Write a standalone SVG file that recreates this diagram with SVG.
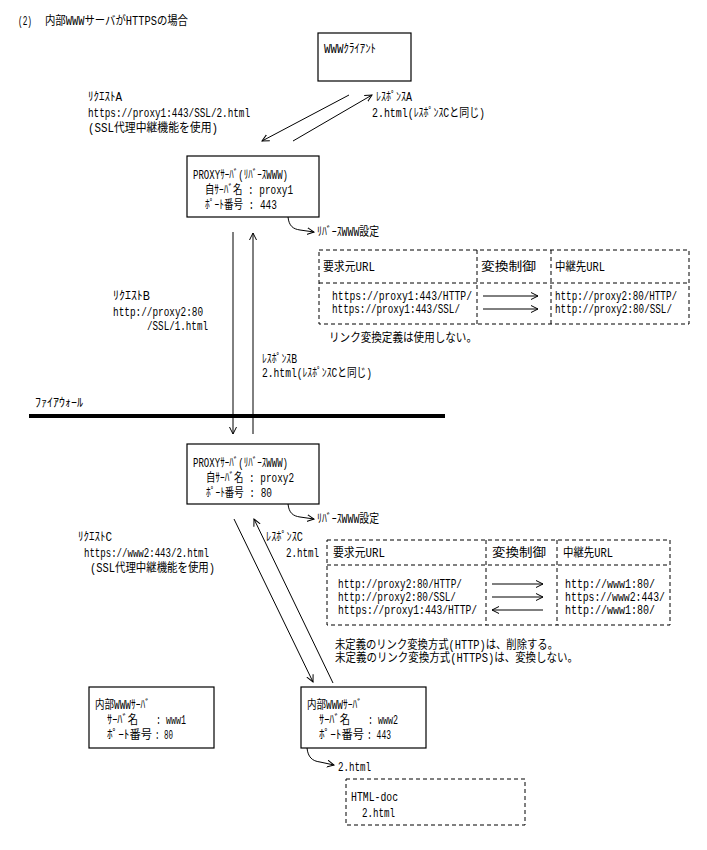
<svg xmlns="http://www.w3.org/2000/svg" width="707" height="850" viewBox="0 0 707 850">
<style>
text{font-family:"Liberation Mono","Noto Sans CJK JP",monospace;font-size:12px;fill:#000}
.box{fill:#fff;stroke:#000;stroke-width:1.2}
.dash{fill:none;stroke:#000;stroke-width:1;stroke-dasharray:4 3}
.ln{fill:none;stroke:#000;stroke-width:1}
</style>
<defs>
<marker id="ah" markerWidth="9" markerHeight="9" refX="7" refY="4" orient="auto" markerUnits="userSpaceOnUse"><path d="M0,0.5 L7,4 L0,7.5" fill="none" stroke="#000" stroke-width="1"/></marker>
</defs>
<rect width="707" height="850" fill="#fff"/>

<g id="title">
<text x="18" y="25" textLength="14" lengthAdjust="spacingAndGlyphs">(2)</text>
<text x="45" y="25" textLength="143" lengthAdjust="spacingAndGlyphs">内部WWWサーバがHTTPSの場合</text>
</g>

<g id="client">
<rect class="box" x="318" y="33" width="93" height="48"/>
<text x="324" y="53" textLength="52" lengthAdjust="spacingAndGlyphs">WWWｸﾗｲｱﾝﾄ</text>
</g>

<g id="labelA">
<text x="88" y="101" textLength="34" lengthAdjust="spacingAndGlyphs">ﾘｸｴｽﾄA</text>
<text x="88" y="117" textLength="162" lengthAdjust="spacingAndGlyphs">https://proxy1:443/SSL/2.html</text>
<text x="88" y="132" textLength="130" lengthAdjust="spacingAndGlyphs">(SSL代理中継機能を使用)</text>
<text x="376" y="101" textLength="36" lengthAdjust="spacingAndGlyphs">ﾚｽﾎﾟﾝｽA</text>
<text x="372" y="117" textLength="113" lengthAdjust="spacingAndGlyphs">2.html(ﾚｽﾎﾟﾝｽCと同じ)</text>
</g>

<g id="proxy1">
<rect class="box" x="187" y="156" width="132" height="61"/>
<text x="193" y="179" textLength="95" lengthAdjust="spacingAndGlyphs">PROXYｻｰﾊﾞ(ﾘﾊﾞｰｽWWW)</text>
<text x="205" y="194" textLength="88" lengthAdjust="spacingAndGlyphs">自ｻｰﾊﾞ名 : proxy1</text>
<text x="205" y="209" textLength="72" lengthAdjust="spacingAndGlyphs">ﾎﾟｰﾄ番号 : 443</text>
</g>

<g id="setting1">
<text x="317" y="236" textLength="62" lengthAdjust="spacingAndGlyphs">ﾘﾊﾞｰｽWWW設定</text>
<rect class="dash" x="319" y="250" width="370" height="74"/>
<line class="dash" x1="319" y1="283" x2="689" y2="283"/>
<line class="dash" x1="477" y1="250" x2="477" y2="324"/>
<line class="dash" x1="551" y1="250" x2="551" y2="324"/>
<text x="323" y="271" textLength="52" lengthAdjust="spacingAndGlyphs">要求元URL</text>
<text x="481" y="271" textLength="55" lengthAdjust="spacingAndGlyphs">変換制御</text>
<text x="555" y="271" textLength="50" lengthAdjust="spacingAndGlyphs">中継先URL</text>
<text x="332" y="300" textLength="140" lengthAdjust="spacingAndGlyphs">https://proxy1:443/HTTP/</text>
<text x="332" y="313" textLength="128" lengthAdjust="spacingAndGlyphs">https://proxy1:443/SSL/</text>
<text x="555" y="300" textLength="122" lengthAdjust="spacingAndGlyphs">http://proxy2:80/HTTP/</text>
<text x="555" y="313" textLength="117" lengthAdjust="spacingAndGlyphs">http://proxy2:80/SSL/</text>
<text x="329" y="342" textLength="148" lengthAdjust="spacingAndGlyphs">リンク変換定義は使用しない。</text>
</g>

<g id="labelB">
<text x="113" y="300" textLength="37" lengthAdjust="spacingAndGlyphs">ﾘｸｴｽﾄB</text>
<text x="113" y="316" textLength="90" lengthAdjust="spacingAndGlyphs">http://proxy2:80</text>
<text x="147" y="330" textLength="61" lengthAdjust="spacingAndGlyphs">/SSL/1.html</text>
<text x="262" y="363" textLength="35" lengthAdjust="spacingAndGlyphs">ﾚｽﾎﾟﾝｽB</text>
<text x="262" y="377" textLength="110" lengthAdjust="spacingAndGlyphs">2.html(ﾚｽﾎﾟﾝｽCと同じ)</text>
</g>

<g id="firewall">
<text x="35" y="407" textLength="48" lengthAdjust="spacingAndGlyphs">ﾌｧｲｱｳｫｰﾙ</text>
<line x1="29" y1="416" x2="445" y2="416" stroke="#000" stroke-width="4"/>
</g>

<g id="proxy2">
<rect class="box" x="187" y="444" width="132" height="60"/>
<text x="193" y="467" textLength="95" lengthAdjust="spacingAndGlyphs">PROXYｻｰﾊﾞ(ﾘﾊﾞｰｽWWW)</text>
<text x="206" y="482" textLength="88" lengthAdjust="spacingAndGlyphs">自ｻｰﾊﾞ名 : proxy2</text>
<text x="206" y="497" textLength="66" lengthAdjust="spacingAndGlyphs">ﾎﾟｰﾄ番号 : 80</text>
</g>

<g id="labelC">
<text x="78" y="541" textLength="34" lengthAdjust="spacingAndGlyphs">ﾘｸｴｽﾄC</text>
<text x="84" y="557" textLength="125" lengthAdjust="spacingAndGlyphs">https://www2:443/2.html</text>
<text x="90" y="572" textLength="125" lengthAdjust="spacingAndGlyphs">(SSL代理中継機能を使用)</text>
<text x="266" y="541" textLength="37" lengthAdjust="spacingAndGlyphs">ﾚｽﾎﾟﾝｽC</text>
<text x="286" y="557" textLength="33" lengthAdjust="spacingAndGlyphs">2.html</text>
</g>

<g id="setting2">
<text x="317" y="523" textLength="62" lengthAdjust="spacingAndGlyphs">ﾘﾊﾞｰｽWWW設定</text>
<rect class="dash" x="327" y="540" width="343" height="85"/>
<line class="dash" x1="327" y1="565" x2="670" y2="565"/>
<line class="dash" x1="486" y1="540" x2="486" y2="625"/>
<line class="dash" x1="557" y1="540" x2="557" y2="625"/>
<text x="333" y="557" textLength="52" lengthAdjust="spacingAndGlyphs">要求元URL</text>
<text x="492" y="557" textLength="54" lengthAdjust="spacingAndGlyphs">変換制御</text>
<text x="563" y="557" textLength="50" lengthAdjust="spacingAndGlyphs">中継先URL</text>
<text x="338" y="588" textLength="124" lengthAdjust="spacingAndGlyphs">http://proxy2:80/HTTP/</text>
<text x="338" y="601" textLength="118" lengthAdjust="spacingAndGlyphs">http://proxy2:80/SSL/</text>
<text x="338" y="614" textLength="139" lengthAdjust="spacingAndGlyphs">https://proxy1:443/HTTP/</text>
<text x="565" y="588" textLength="90" lengthAdjust="spacingAndGlyphs">http://www1:80/</text>
<text x="565" y="601" textLength="100" lengthAdjust="spacingAndGlyphs">https://www2:443/</text>
<text x="565" y="614" textLength="90" lengthAdjust="spacingAndGlyphs">http://www1:80/</text>
<text x="335" y="649" textLength="223" lengthAdjust="spacingAndGlyphs">未定義のリンク変換方式(HTTP)は、削除する。</text>
<text x="335" y="662" textLength="243" lengthAdjust="spacingAndGlyphs">未定義のリンク変換方式(HTTPS)は、変換しない。</text>
</g>

<g id="www1">
<rect class="box" x="89" y="687" width="125" height="61"/>
<text x="95" y="709" textLength="55" lengthAdjust="spacingAndGlyphs">内部WWWｻｰﾊﾞ</text>
<text x="107" y="724" textLength="31" lengthAdjust="spacingAndGlyphs">ｻｰﾊﾞ名</text>
<text x="156" y="724" textLength="30" lengthAdjust="spacingAndGlyphs">: www1</text>
<text x="107" y="739" textLength="45" lengthAdjust="spacingAndGlyphs">ﾎﾟｰﾄ番号</text>
<text x="155" y="739" textLength="18" lengthAdjust="spacingAndGlyphs">: 80</text>
</g>

<g id="www2">
<rect class="box" x="301" y="687" width="125" height="61"/>
<text x="307" y="709" textLength="55" lengthAdjust="spacingAndGlyphs">内部WWWｻｰﾊﾞ</text>
<text x="319" y="724" textLength="31" lengthAdjust="spacingAndGlyphs">ｻｰﾊﾞ名</text>
<text x="368" y="724" textLength="30" lengthAdjust="spacingAndGlyphs">: www2</text>
<text x="319" y="739" textLength="45" lengthAdjust="spacingAndGlyphs">ﾎﾟｰﾄ番号</text>
<text x="367" y="739" textLength="24" lengthAdjust="spacingAndGlyphs">: 443</text>
</g>

<g id="htmldoc">
<text x="338" y="771" textLength="33" lengthAdjust="spacingAndGlyphs">2.html</text>
<rect class="dash" x="346" y="779" width="179" height="46"/>
<text x="351" y="801" textLength="47" lengthAdjust="spacingAndGlyphs">HTML-doc</text>
<text x="362" y="817" textLength="33" lengthAdjust="spacingAndGlyphs">2.html</text>
</g>

<g id="connectors">
<line class="ln" x1="349" y1="95" x2="262" y2="141" marker-end="url(#ah)"/>
<line class="ln" x1="293" y1="141" x2="372" y2="95" marker-end="url(#ah)"/>
<path class="ln" d="M288,217 C289,226 293,229 300,230 L314,232" marker-end="url(#ah)"/>
<line class="ln" x1="233" y1="232" x2="233" y2="434" marker-end="url(#ah)"/>
<line class="ln" x1="253" y1="434" x2="253" y2="233" marker-end="url(#ah)"/>
<path class="ln" d="M288,504 C289,513 293,516 300,517 L314,519" marker-end="url(#ah)"/>
<line class="ln" x1="234" y1="519" x2="313" y2="682" marker-end="url(#ah)"/>
<line class="ln" x1="333" y1="683" x2="254" y2="519" marker-end="url(#ah)"/>
<path class="ln" d="M307,748 C308,757 312,761 320,762 L334,765" marker-end="url(#ah)"/>
<line class="ln" x1="483" y1="296" x2="538" y2="296" marker-end="url(#ah)"/>
<line class="ln" x1="483" y1="309" x2="538" y2="309" marker-end="url(#ah)"/>
<line class="ln" x1="492" y1="584" x2="543" y2="584" marker-end="url(#ah)"/>
<line class="ln" x1="492" y1="597" x2="543" y2="597" marker-end="url(#ah)"/>
<line class="ln" x1="543" y1="610" x2="492" y2="610" marker-end="url(#ah)"/>
</g>
</svg>
